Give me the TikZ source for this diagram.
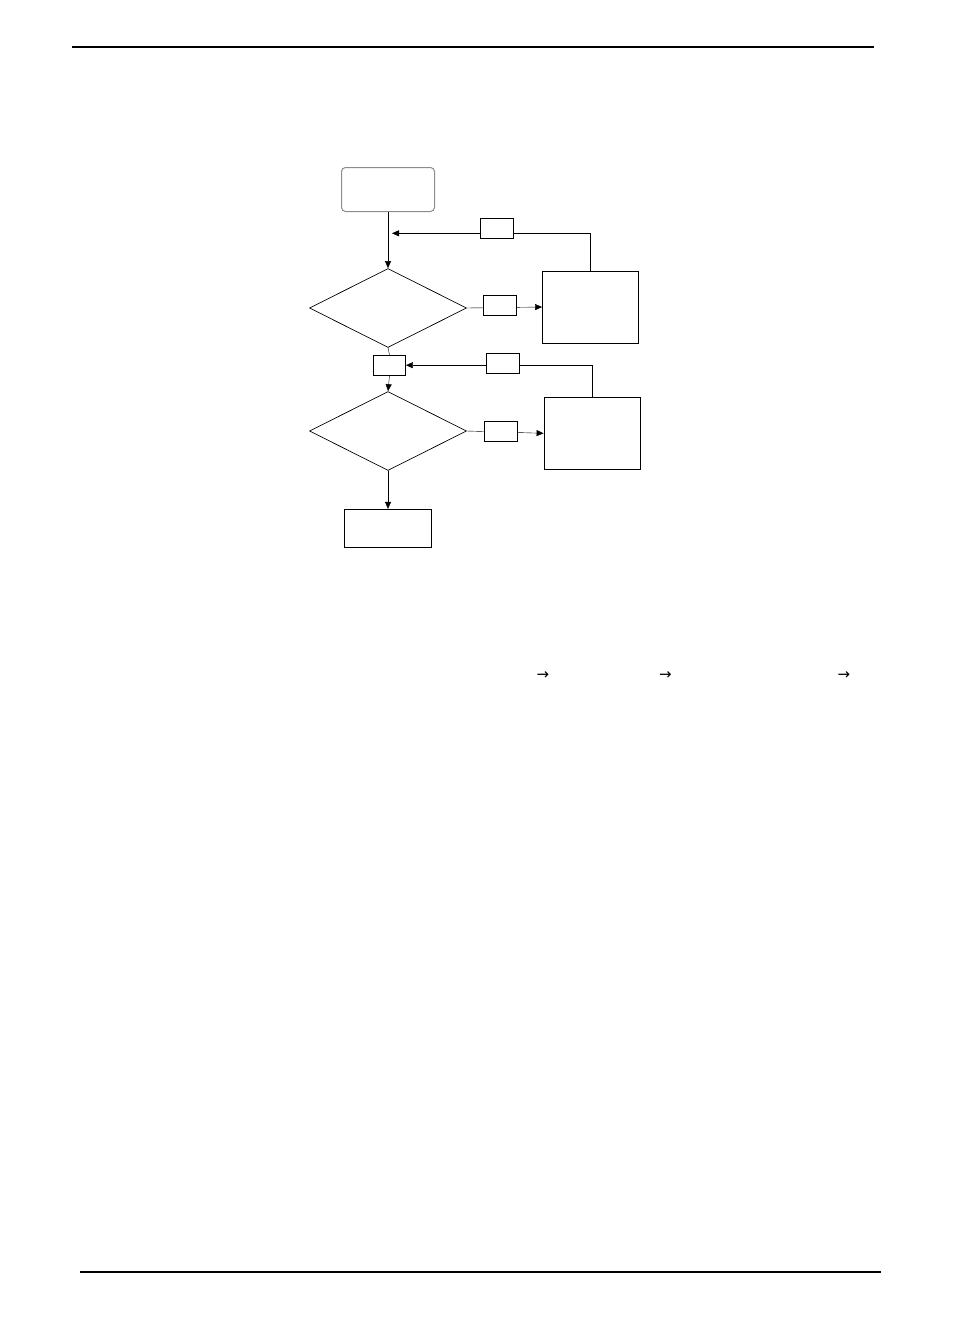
\documentclass[tikz,border=0pt]{standalone}
\usepackage{fontspec}
\newfontfamily\arrowfont{DejaVu Sans}
\usetikzlibrary{arrows.meta,backgrounds,shapes.geometric,positioning}

\begin{document}
\begin{tikzpicture}
  [
   x=1pt, y=-1pt,
   line width=0.8pt,
   >={Triangle[length=7pt,width=6pt]},
   sb/.style={rectangle,rounded corners=4pt,draw=black!45,line width=1pt,fill=white,inner sep=0pt,minimum width=93pt,minimum height=44pt},
   db/.style={diamond,draw=black,line width=0.7pt,fill=white,inner sep=0pt,minimum width=157pt,minimum height=79pt},
   bx/.style={rectangle,draw=black,fill=white,inner sep=0pt,minimum width=96pt,minimum height=72pt},
   ex/.style={rectangle,draw=black,fill=white,inner sep=0pt,minimum width=87pt,minimum height=38pt},
   lb/.style={rectangle,draw=black,fill=white,inner sep=0pt,minimum width=33pt,minimum height=20pt},
   ar/.style={font=\arrowfont\fontsize{15}{15}\selectfont,inner sep=0pt}
  ]
   \useasboundingbox (0,0) rectangle (954,1336);

   % page rules
   \draw[line width=1.2pt] (72,47) -- (874,47);
   \draw[line width=1.2pt] (80,1272) -- (881,1272);

   % flow chart
   \node[sb] (start) at (388,189.5) {};
   \node[db] (d1) at (388,308) {};
   \node[bx] (b1) at (590.5,307) {};
   \node[lb] (l1) at (497,228.3) {};
   \node[lb] (l2) at (499.5,305.7) {};
   \node[lb,minimum width=32pt] (l3) at (389.5,365.2) {};
   \node[lb] (l4) at (503,363.8) {};
   \node[db] (d2) at (388,431) {};
   \node[bx] (b2) at (592,433.3) {};
   \node[lb] (l5) at (501,431.3) {};
   \node[ex] (e1) at (388,528.3) {};

   \coordinate (j1) at (392,233.3);

   \begin{scope}[on background layer]
   \draw[->] (start.south) -- (d1.north);
   \draw[->] (b1.north) |- (j1);
   \draw[->] (d1.east) -- (b1.west);
   \draw (d1.south) -- (l3.north);
   \draw[->] (l3.south) -- (d2.north);
   \draw[->] (b2.north) |- (l3.east);
   \draw[->] (d2.east) -- (b2.west);
   \draw[->] (d2.south) -- (e1.north);
   \end{scope}

   % arrows in the text line
   \node[ar] (a1) at (543,675.5) {→};
   \node[ar] (a2) at (665.5,675.5) {→};
   \node[ar] (a3) at (844,675.5) {→};

\end{tikzpicture}
\end{document}
